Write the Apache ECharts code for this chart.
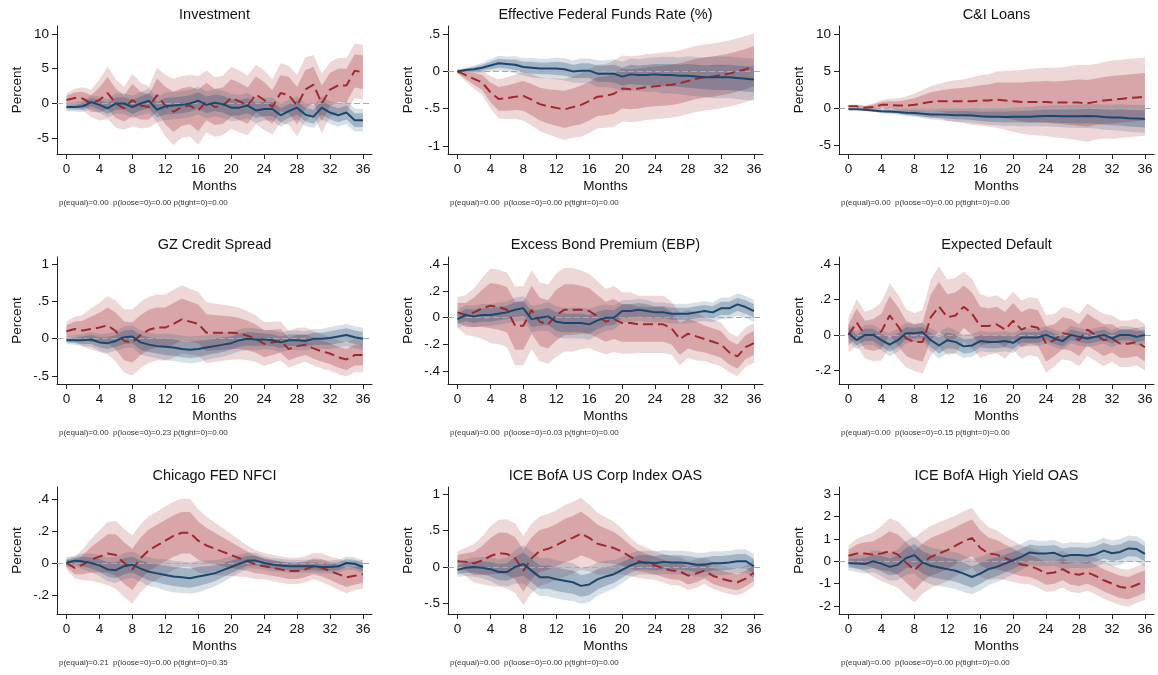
<!DOCTYPE html>
<html>
<head>
<meta charset="utf-8">
<title>IRF panels</title>
<script src="https://cdn.jsdelivr.net/npm/echarts@6/dist/echarts.min.js"></script>
<style>
  html, body { margin: 0; padding: 0; background: #fff; }
  #chart { width: 1158px; height: 675px; }
</style>
</head>
<body>
<div id="chart"></div>
<script>
// horizon (months) and x tick labels
var months = [0,1,2,3,4,5,6,7,8,9,10,11,12,13,14,15,16,17,18,19,20,21,22,23,24,25,26,27,28,29,30,31,32,33,34,35,36];
var monthTicks = [0,4,8,12,16,20,24,28,32,36];

// point estimates (loose = red dashed, tight = blue solid) and standard errors
var invLoose   = [0.5,0.8,0.7,0.0,0.5,1.5,0.0,-0.7,0.5,-0.3,-0.5,1.2,-0.3,-1.2,-0.5,-0.3,-1.0,0.3,-0.5,-0.3,0.8,0.3,-0.3,1.3,0.5,-0.5,1.5,1.2,-0.3,2.0,2.7,0.0,2.0,2.6,2.6,4.7,4.5];
var invLooseSe = [0.6,0.8,1.0,1.2,1.8,2.3,2.1,1.9,2.3,2.0,1.8,2.4,2.7,2.9,2.7,2.7,3.0,2.7,2.6,2.6,2.7,2.7,2.6,2.6,2.6,2.4,2.6,2.6,2.7,2.8,2.6,2.6,2.4,2.4,2.4,2.4,2.4];
var invTight   = [-0.5,-0.5,-0.4,0.2,-0.2,-0.7,0.0,0.0,-0.5,0.0,0.4,-0.9,-0.4,-0.3,-0.2,0.0,0.4,-0.2,0.1,-0.1,-0.6,-0.6,-0.3,-1.0,-0.8,-0.8,-1.7,-1.1,-0.6,-1.6,-1.9,-0.6,-1.3,-1.7,-1.3,-2.4,-2.4];
var invTightSe = [0.35,0.4,0.5,0.6,0.7,0.8,0.9,0.9,1.0,1.0,1.1,1.1,1.2,1.2,1.2,1.2,1.2,1.2,1.2,1.2,1.2,1.1,1.1,1.1,1.0,1.0,1.0,1.0,1.0,1.0,1.0,1.0,1.0,1.0,1.0,1.0,1.0];

var effLoose   = [0,-0.05,-0.1,-0.15,-0.28,-0.37,-0.36,-0.34,-0.33,-0.38,-0.44,-0.47,-0.49,-0.51,-0.48,-0.45,-0.4,-0.34,-0.33,-0.3,-0.23,-0.24,-0.23,-0.21,-0.2,-0.19,-0.18,-0.16,-0.13,-0.1,-0.08,-0.07,-0.05,-0.03,0.0,0.03,0.07];
var effLooseSe = [0.02,0.05,0.08,0.1,0.13,0.16,0.17,0.18,0.2,0.21,0.22,0.23,0.24,0.25,0.25,0.26,0.26,0.26,0.26,0.27,0.27,0.27,0.27,0.27,0.27,0.27,0.27,0.27,0.27,0.27,0.27,0.27,0.27,0.27,0.27,0.27,0.27];
var effTight   = [0,0.02,0.03,0.05,0.08,0.11,0.1,0.09,0.06,0.05,0.04,0.04,0.04,0.03,0.0,0.01,0.01,-0.03,-0.03,-0.03,-0.07,-0.04,-0.05,-0.05,-0.04,-0.05,-0.05,-0.06,-0.06,-0.07,-0.08,-0.08,-0.08,-0.08,-0.09,-0.1,-0.11];
var effTightSe = [0.01,0.02,0.03,0.04,0.05,0.06,0.06,0.07,0.07,0.08,0.08,0.08,0.09,0.09,0.09,0.1,0.1,0.11,0.11,0.12,0.12,0.13,0.13,0.14,0.14,0.15,0.15,0.15,0.16,0.16,0.16,0.17,0.17,0.17,0.17,0.17,0.17];

var ciLoose   = [0.3,0.3,0.1,0.2,0.5,0.5,0.4,0.4,0.5,0.7,0.9,1.0,1.0,1.0,1.0,1.0,1.1,1.1,1.2,1.1,1.0,0.9,0.9,0.9,0.9,0.8,0.8,0.8,0.8,0.7,0.9,1.1,1.2,1.3,1.4,1.5,1.6];
var ciLooseSe = [0.12,0.15,0.2,0.3,0.4,0.5,0.6,0.75,0.9,1.1,1.3,1.4,1.6,1.7,1.8,1.95,2.05,2.15,2.3,2.4,2.5,2.6,2.7,2.75,2.8,2.85,2.9,3.0,3.1,3.15,3.1,3.15,3.2,3.2,3.2,3.2,3.2];
var ciTight   = [-0.1,-0.1,-0.15,-0.25,-0.35,-0.4,-0.45,-0.55,-0.6,-0.7,-0.8,-0.8,-0.85,-0.9,-0.9,-0.95,-1.05,-1.1,-1.1,-1.15,-1.1,-1.1,-1.1,-1.05,-1.0,-1.0,-1.05,-1.05,-1.05,-1.0,-1.05,-1.15,-1.2,-1.2,-1.3,-1.35,-1.4];
var ciTightSe = [0.05,0.07,0.1,0.13,0.17,0.2,0.23,0.27,0.3,0.35,0.4,0.45,0.5,0.53,0.56,0.6,0.63,0.66,0.7,0.72,0.75,0.78,0.8,0.83,0.85,0.88,0.9,0.93,0.95,0.98,1.0,1.03,1.05,1.08,1.1,1.12,1.15];

var gzLoose   = [0.1,0.13,0.11,0.13,0.15,0.18,0.1,-0.03,-0.05,0.05,0.12,0.15,0.15,0.2,0.26,0.23,0.2,0.08,0.08,0.08,0.08,0.07,0.04,0.0,-0.07,-0.05,-0.03,-0.14,-0.1,-0.08,-0.13,-0.17,-0.2,-0.25,-0.28,-0.22,-0.22];
var gzLooseSe = [0.08,0.1,0.13,0.17,0.2,0.24,0.25,0.26,0.27,0.27,0.27,0.27,0.27,0.28,0.28,0.27,0.26,0.25,0.24,0.23,0.22,0.21,0.2,0.19,0.18,0.17,0.16,0.15,0.15,0.14,0.14,0.14,0.14,0.14,0.14,0.14,0.14];
var gzTight   = [-0.02,-0.02,-0.02,-0.01,-0.05,-0.06,-0.03,0.02,0.03,-0.05,-0.08,-0.1,-0.11,-0.12,-0.14,-0.15,-0.14,-0.12,-0.1,-0.08,-0.06,-0.02,0.0,-0.01,-0.01,-0.02,-0.05,-0.02,-0.02,-0.03,0.0,0.0,0.01,0.03,0.05,0.02,0.0];
var gzTightSe = [0.03,0.04,0.05,0.06,0.07,0.08,0.08,0.09,0.09,0.1,0.1,0.1,0.11,0.11,0.11,0.11,0.11,0.1,0.1,0.1,0.09,0.09,0.09,0.09,0.08,0.08,0.08,0.08,0.08,0.08,0.08,0.08,0.09,0.09,0.09,0.09,0.09];

var ebpLoose   = [0.04,0.02,0.04,0.07,0.09,0.08,0.06,-0.06,-0.06,0.06,-0.03,-0.05,0.02,0.06,0.06,0.06,0.05,0.01,-0.03,-0.01,-0.04,-0.04,-0.05,-0.05,-0.05,-0.05,-0.08,-0.16,-0.12,-0.14,-0.16,-0.18,-0.2,-0.26,-0.29,-0.22,-0.19];
var ebpLooseSe = [0.07,0.09,0.11,0.14,0.17,0.17,0.17,0.18,0.18,0.18,0.18,0.18,0.19,0.19,0.19,0.18,0.17,0.16,0.15,0.15,0.14,0.14,0.13,0.13,0.13,0.13,0.12,0.12,0.11,0.11,0.1,0.1,0.1,0.09,0.09,0.09,0.09];
var ebpTight   = [-0.01,0.02,0.01,0.02,0.02,0.03,0.04,0.06,0.07,-0.01,0.0,0.01,-0.03,-0.04,-0.04,-0.04,-0.05,-0.02,0.0,0.0,0.05,0.05,0.06,0.05,0.04,0.04,0.03,0.03,0.03,0.04,0.05,0.04,0.07,0.07,0.1,0.08,0.05];
var ebpTightSe = [0.04,0.045,0.05,0.05,0.05,0.05,0.05,0.055,0.055,0.06,0.06,0.065,0.07,0.07,0.07,0.07,0.07,0.065,0.06,0.055,0.05,0.05,0.05,0.05,0.045,0.045,0.045,0.045,0.045,0.045,0.045,0.045,0.05,0.05,0.05,0.05,0.05];

var edLoose   = [0.0,0.07,0.0,0.0,0.02,0.11,0.05,-0.02,-0.04,-0.04,0.1,0.16,0.1,0.11,0.16,0.12,0.05,0.05,0.06,0.03,0.08,0.03,0.05,0.04,-0.05,-0.03,0.01,0.0,-0.03,0.03,0.0,-0.03,-0.02,-0.05,-0.05,-0.04,-0.07];
var edLooseSe = [0.06,0.08,0.08,0.09,0.1,0.11,0.11,0.1,0.1,0.11,0.13,0.14,0.13,0.13,0.12,0.12,0.11,0.1,0.1,0.1,0.1,0.1,0.1,0.1,0.1,0.09,0.09,0.09,0.09,0.09,0.09,0.09,0.08,0.08,0.08,0.08,0.08];
var edTight   = [0.01,-0.03,0.0,0.0,-0.03,-0.055,-0.03,0.01,0.01,0.015,-0.03,-0.06,-0.03,-0.04,-0.065,-0.06,-0.035,-0.04,-0.04,-0.035,-0.045,-0.015,-0.015,-0.015,0.0,-0.02,-0.035,0.0,-0.01,-0.02,-0.01,0.0,-0.02,0.0,0.0,-0.01,0.0];
var edTightSe = [0.03,0.03,0.035,0.035,0.035,0.04,0.04,0.035,0.03,0.03,0.04,0.045,0.045,0.04,0.04,0.04,0.035,0.035,0.035,0.035,0.035,0.03,0.03,0.03,0.03,0.03,0.03,0.03,0.03,0.03,0.03,0.03,0.03,0.03,0.03,0.03,0.03];

var nfLoose   = [0.0,-0.03,-0.01,0.02,0.04,0.06,0.05,0.0,-0.04,0.03,0.08,0.11,0.14,0.17,0.19,0.19,0.14,0.11,0.09,0.07,0.05,0.03,0.01,-0.01,-0.02,-0.03,-0.04,-0.05,-0.05,-0.04,-0.02,-0.03,-0.05,-0.07,-0.09,-0.08,-0.07];
var nfLooseSe = [0.025,0.04,0.06,0.08,0.1,0.12,0.13,0.13,0.13,0.13,0.13,0.13,0.13,0.13,0.13,0.13,0.12,0.11,0.1,0.09,0.08,0.07,0.06,0.055,0.05,0.05,0.05,0.05,0.05,0.05,0.05,0.055,0.055,0.06,0.06,0.055,0.055];
var nfTight   = [0.0,0.015,0.01,0.0,-0.015,-0.04,-0.045,-0.02,-0.01,-0.035,-0.055,-0.065,-0.075,-0.085,-0.09,-0.095,-0.085,-0.075,-0.065,-0.045,-0.025,-0.005,0.015,0.015,0.0,-0.01,-0.015,-0.02,-0.02,-0.02,-0.02,-0.025,-0.025,-0.02,0.0,-0.005,-0.025];
var nfTightSe = [0.015,0.02,0.03,0.035,0.04,0.045,0.05,0.05,0.05,0.05,0.055,0.055,0.06,0.06,0.06,0.06,0.06,0.055,0.05,0.045,0.04,0.035,0.03,0.03,0.025,0.025,0.025,0.025,0.025,0.025,0.025,0.025,0.025,0.025,0.025,0.025,0.025];

var coLoose   = [0.08,0.07,0.05,0.09,0.15,0.19,0.18,0.12,-0.05,0.12,0.22,0.25,0.3,0.36,0.4,0.46,0.4,0.32,0.29,0.26,0.21,0.14,0.08,0.05,0.02,-0.02,-0.05,-0.06,-0.12,-0.09,-0.05,-0.12,-0.16,-0.19,-0.21,-0.16,-0.08];
var coLooseSe = [0.08,0.12,0.16,0.2,0.25,0.28,0.29,0.29,0.29,0.29,0.29,0.29,0.29,0.3,0.3,0.3,0.28,0.26,0.24,0.22,0.19,0.16,0.14,0.13,0.12,0.12,0.12,0.12,0.12,0.12,0.11,0.11,0.11,0.11,0.11,0.11,0.11];
var coTight   = [-0.04,-0.01,0.0,-0.01,-0.03,-0.07,-0.07,0.0,0.04,-0.05,-0.14,-0.14,-0.17,-0.19,-0.21,-0.26,-0.24,-0.17,-0.13,-0.1,-0.04,0.02,0.06,0.06,0.05,0.07,0.06,0.06,0.05,0.03,0.03,0.05,0.05,0.06,0.08,0.08,0.01];
var coTightSe = [0.06,0.07,0.08,0.09,0.1,0.11,0.12,0.14,0.16,0.16,0.16,0.16,0.16,0.16,0.16,0.15,0.15,0.14,0.13,0.12,0.11,0.1,0.1,0.1,0.1,0.1,0.1,0.1,0.1,0.1,0.1,0.1,0.1,0.1,0.1,0.1,0.1];

var hyLoose   = [0.25,0.35,0.35,0.3,0.35,0.45,0.3,-0.05,-0.4,-0.05,0.2,0.35,0.5,0.7,0.9,1.05,0.6,0.35,0.3,0.15,0.0,-0.15,-0.2,-0.35,-0.55,-0.5,-0.35,-0.55,-0.6,-0.5,-0.65,-0.85,-1.0,-1.15,-1.2,-1.05,-0.9];
var hyLooseSe = [0.27,0.4,0.5,0.6,0.75,0.9,0.9,0.9,0.88,0.85,0.85,0.85,0.85,0.83,0.82,0.82,0.78,0.72,0.66,0.6,0.56,0.52,0.5,0.5,0.5,0.5,0.5,0.5,0.5,0.5,0.5,0.5,0.5,0.5,0.5,0.5,0.5];
var hyTight   = [-0.08,-0.1,-0.12,0.0,-0.1,-0.25,-0.15,0.15,0.28,-0.05,-0.2,-0.28,-0.35,-0.42,-0.55,-0.7,-0.55,-0.35,-0.25,-0.1,0.05,0.2,0.4,0.35,0.35,0.38,0.22,0.28,0.28,0.25,0.32,0.48,0.36,0.42,0.58,0.55,0.33];
var hyTightSe = [0.2,0.23,0.26,0.3,0.34,0.38,0.42,0.46,0.5,0.5,0.5,0.5,0.5,0.5,0.5,0.48,0.46,0.44,0.42,0.4,0.38,0.36,0.35,0.35,0.35,0.35,0.35,0.35,0.35,0.35,0.35,0.35,0.35,0.35,0.35,0.35,0.35];

var titles = ['Investment', 'Effective Federal Funds Rate (%)', 'C&I Loans',
              'GZ Credit Spread', 'Excess Bond Premium (EBP)', 'Expected Default',
              'Chicago FED NFCI', 'ICE BofA US Corp Index OAS', 'ICE BofA High Yield OAS'];
var pEqual = ['0.00','0.00','0.00','0.00','0.00','0.00','0.21','0.00','0.00'];
var pLoose = ['0.00','0.00','0.00','0.23','0.03','0.15','0.00','0.00','0.00'];
var pTight = ['0.00','0.00','0.00','0.00','0.00','0.00','0.35','0.00','0.00'];
var yTicks = [[-5,0,5,10], [-1,-0.5,0,0.5], [-5,0,5,10],
              [-0.5,0,0.5,1], [-0.4,-0.2,0,0.2,0.4], [-0.2,0,0.2,0.4],
              [-0.2,0,0.2,0.4], [-0.5,0,0.5,1], [-2,-1,0,1,2,3]];

var looseList = [invLoose, effLoose, ciLoose, gzLoose, ebpLoose, edLoose, nfLoose, coLoose, hyLoose];
var looseSeList = [invLooseSe, effLooseSe, ciLooseSe, gzLooseSe, ebpLooseSe, edLooseSe, nfLooseSe, coLooseSe, hyLooseSe];
var tightList = [invTight, effTight, ciTight, gzTight, ebpTight, edTight, nfTight, coTight, hyTight];
var tightSeList = [invTightSe, effTightSe, ciTightSe, gzTightSe, ebpTightSe, edTightSe, nfTightSe, coTightSe, hyTightSe];

// layout
var yRange = [[-7.27,11.15], [-1.11,0.61], [-6.12,11.12],
              [-0.61,1.10], [-0.497,0.455], [-0.278,0.441],
              [-0.32,0.477], [-0.647,1.10], [-2.36,3.33]];
var colLeft = [57, 448, 839];
var rowTop = [26, 257, 487];
var rowHeight = [128, 127, 127];
var titleY = [15, 245, 476];
var noteY = [203, 433, 663];
var gridW = 315;
var innerZ = 1.0;    // 68% band
var outerZ = 1.645;  // 90% band

var FONT = '"Liberation Sans", Arial, Helvetica, sans-serif';
var RED = '#a0282d';
var BLUE = '#1a476f';

function stataNum(v) {
    return String(v).replace('0.', '.');
}

function bandRows(est, se, z) {
    return months.map(function (m, i) {
        return [m, est[i] - z * se[i], est[i] + z * se[i]];
    });
}

function bandRenderer(fill) {
    return function (params, api) {
        if (params.dataIndexInside !== 0) return null;
        var n = params.dataInsideLength;
        var top = [], bottom = [];
        for (var i = 0; i < n; i++) {
            top.push(api.coord([api.value(0, i), api.value(2, i)]));
            bottom.unshift(api.coord([api.value(0, i), api.value(1, i)]));
        }
        return {
            type: 'polygon',
            shape: { points: top.concat(bottom) },
            style: { fill: fill, stroke: null }
        };
    };
}

var grids = [], xAxes = [], yAxes = [], series = [], titleList = [];

for (var k = 0; k < 9; k++) {
    var r = Math.floor(k / 3), c = k % 3;
    grids.push({ left: colLeft[c], top: rowTop[r], width: gridW, height: rowHeight[r] });

    xAxes.push({
        type: 'value', gridIndex: k, min: -1.15, max: 37.1,
        name: 'Months', nameLocation: 'middle', nameGap: 25,
        nameTextStyle: { fontSize: 13.5, color: '#111', fontFamily: FONT },
        axisLine: { show: true, onZero: false, lineStyle: { color: '#222', width: 1 } },
        axisTick: { show: true, length: 5, customValues: monthTicks, lineStyle: { color: '#222' } },
        axisLabel: { customValues: monthTicks, margin: 8, fontSize: 13.5, color: '#111', fontFamily: FONT },
        splitLine: { show: false }
    });
    yAxes.push({
        type: 'value', gridIndex: k, min: yRange[k][0], max: yRange[k][1],
        name: 'Percent', nameLocation: 'middle', nameGap: 33, nameRotate: 90,
        nameTextStyle: { fontSize: 13.5, color: '#111', fontFamily: FONT },
        axisLine: { show: true, onZero: false, lineStyle: { color: '#222', width: 1 } },
        axisTick: { show: true, length: 5, customValues: yTicks[k], lineStyle: { color: '#222' } },
        axisLabel: { customValues: yTicks[k], margin: 8, fontSize: 13.5, color: '#111', fontFamily: FONT,
                     formatter: stataNum },
        splitLine: { show: false }
    });

    var bands = [
        [looseList[k], looseSeList[k], outerZ, 'rgba(160,40,45,0.19)'],
        [looseList[k], looseSeList[k], innerZ, 'rgba(160,40,45,0.28)'],
        [tightList[k], tightSeList[k], outerZ, 'rgba(26,71,111,0.17)'],
        [tightList[k], tightSeList[k], innerZ, 'rgba(26,71,111,0.28)']
    ];
    bands.forEach(function (b) {
        series.push({
            type: 'custom', xAxisIndex: k, yAxisIndex: k, silent: true, clip: true, z: 1,
            renderItem: bandRenderer(b[3]),
            data: bandRows(b[0], b[1], b[2])
        });
    });

    series.push({
        type: 'line', xAxisIndex: k, yAxisIndex: k, z: 3, symbol: 'none', silent: true,
        data: months.map(function (m, i) { return [m, looseList[k][i]]; }),
        lineStyle: { color: RED, width: 2, type: [10, 5] },
        markLine: {
            silent: true, symbol: 'none', z: 2, label: { show: false },
            lineStyle: { color: '#aaa', width: 1, type: [6, 3] },
            data: [{ yAxis: 0 }]
        }
    });
    series.push({
        type: 'line', xAxisIndex: k, yAxisIndex: k, z: 3, symbol: 'none', silent: true,
        data: months.map(function (m, i) { return [m, tightList[k][i]]; }),
        lineStyle: { color: BLUE, width: 2 }
    });

    titleList.push({
        text: titles[k], left: colLeft[c] + gridW / 2, top: titleY[r],
        textAlign: 'center', textVerticalAlign: 'middle', padding: 0,
        textStyle: { fontSize: 14.5, fontWeight: 'normal', color: '#111', fontFamily: FONT }
    });
    titleList.push({
        text: 'p(equal)=' + pEqual[k] + '  p(loose=0)=' + pLoose[k] + ' p(tight=0)=' + pTight[k],
        left: colLeft[c] + 2, top: noteY[r],
        textAlign: 'left', textVerticalAlign: 'middle', padding: 0,
        textStyle: { fontSize: 8, fontWeight: 'normal', color: '#333', fontFamily: FONT }
    });
}

var chart = echarts.init(document.getElementById('chart'));
var option = {
    animation: false,
    backgroundColor: '#fff',
    title: titleList,
    grid: grids,
    xAxis: xAxes,
    yAxis: yAxes,
    series: series
};
chart.setOption(option);
window.addEventListener('resize', function () {
    chart.resize();
});
</script>
</body>
</html>
